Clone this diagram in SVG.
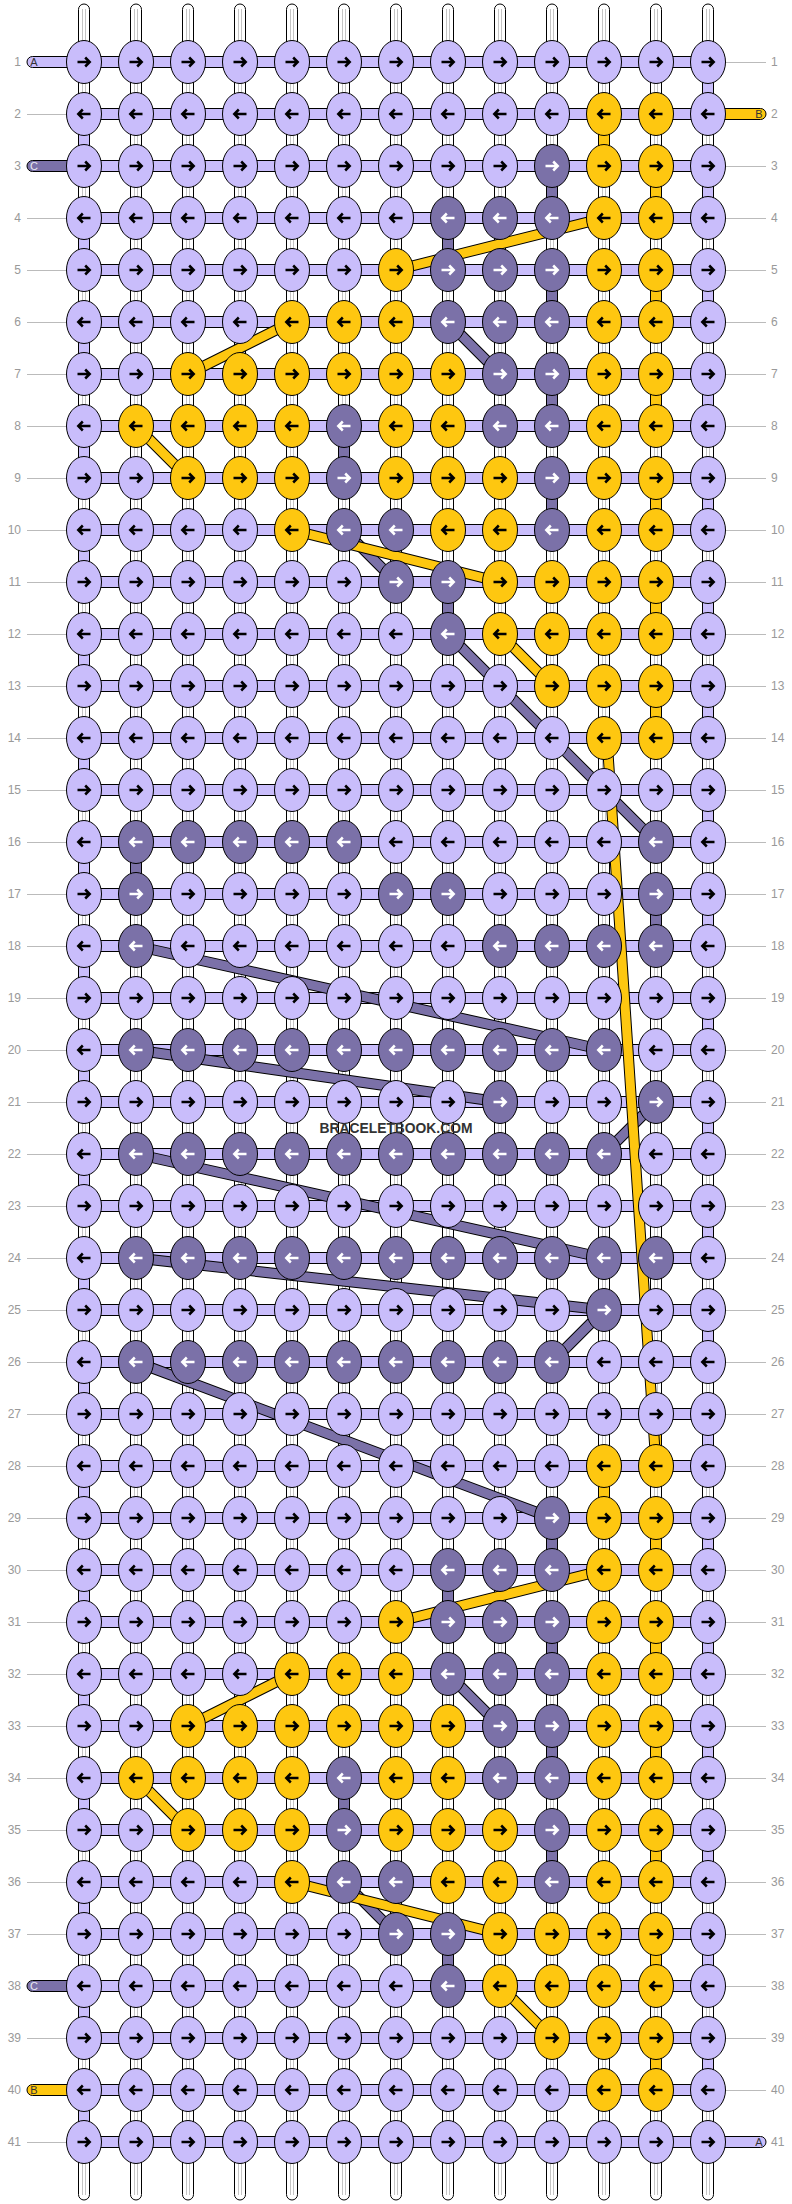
<svg xmlns="http://www.w3.org/2000/svg" xmlns:xlink="http://www.w3.org/1999/xlink" width="792" height="2204" viewBox="0 0 792 2204">
<style>
.L{fill:#c9bdfb}.D{fill:#7b71a8}.Y{fill:#fec710}
ellipse{stroke:#000;stroke-width:1}
.ak{fill:none;stroke:#000;stroke-width:2.5}
.aw{fill:none;stroke:#fff;stroke-width:2.5}
.st{fill:#fff;stroke:#000;stroke-width:1}
.gl{fill:none;stroke:#c4c4c4;stroke-width:1}
.sg{stroke:#000;stroke-width:1}
.ol{fill:none;stroke:#000;stroke-width:11}
.fy{fill:none;stroke:#fec710;stroke-width:9}
.fd{fill:none;stroke:#7b71a8;stroke-width:9}
.ll{fill:none;stroke:#bbb;stroke-width:1}
.lb{font-family:"Liberation Sans",Arial,sans-serif;font-size:12px;fill:#999;text-anchor:end}
.rb{font-family:"Liberation Sans",Arial,sans-serif;font-size:12px;fill:#999;text-anchor:start}
.sl{font-family:"Liberation Sans",Arial,sans-serif;font-size:11px;text-anchor:middle}
.wm{font-family:"Liberation Sans",Arial,sans-serif;font-size:15.5px;font-weight:bold;fill:#333;text-anchor:middle}
</style>
<defs>
<g id="LR"><ellipse class="L" rx="17.5" ry="21.5"/><path class="ak" d="M-6.5 0H5.5M1.2-4.5L5.7 0L1.2 4.5"/></g>
<g id="LL"><ellipse class="L" rx="17.5" ry="21.5"/><path class="ak" d="M6.5 0H-5.5M-1.2-4.5L-5.7 0L-1.2 4.5"/></g>
<g id="YR"><ellipse class="Y" rx="17.5" ry="21.5"/><path class="ak" d="M-6.5 0H5.5M1.2-4.5L5.7 0L1.2 4.5"/></g>
<g id="YL"><ellipse class="Y" rx="17.5" ry="21.5"/><path class="ak" d="M6.5 0H-5.5M-1.2-4.5L-5.7 0L-1.2 4.5"/></g>
<g id="DR"><ellipse class="D" rx="17.5" ry="21.5"/><path class="aw" d="M-6.5 0H5.5M1.2-4.5L5.7 0L1.2 4.5"/></g>
<g id="DL"><ellipse class="D" rx="17.5" ry="21.5"/><path class="aw" d="M6.5 0H-5.5M-1.2-4.5L-5.7 0L-1.2 4.5"/></g>
</defs>
<g id="connectors">
<g id="strands">
<rect class="st" x="78.5" y="4" width="11" height="2196" rx="5.5"/>
<rect class="st" x="130.5" y="4" width="11" height="2196" rx="5.5"/>
<rect class="st" x="182.5" y="4" width="11" height="2196" rx="5.5"/>
<rect class="st" x="234.5" y="4" width="11" height="2196" rx="5.5"/>
<rect class="st" x="286.5" y="4" width="11" height="2196" rx="5.5"/>
<rect class="st" x="338.5" y="4" width="11" height="2196" rx="5.5"/>
<rect class="st" x="390.5" y="4" width="11" height="2196" rx="5.5"/>
<rect class="st" x="442.5" y="4" width="11" height="2196" rx="5.5"/>
<rect class="st" x="494.5" y="4" width="11" height="2196" rx="5.5"/>
<rect class="st" x="546.5" y="4" width="11" height="2196" rx="5.5"/>
<rect class="st" x="598.5" y="4" width="11" height="2196" rx="5.5"/>
<rect class="st" x="650.5" y="4" width="11" height="2196" rx="5.5"/>
<rect class="st" x="702.5" y="4" width="11" height="2196" rx="5.5"/>
<path class="gl" d="M82.5 9V2195M85.5 9V2195M134.5 9V2195M137.5 9V2195M186.5 9V2195M189.5 9V2195M238.5 9V2195M241.5 9V2195M290.5 9V2195M293.5 9V2195M342.5 9V2195M345.5 9V2195M394.5 9V2195M397.5 9V2195M446.5 9V2195M449.5 9V2195M498.5 9V2195M501.5 9V2195M550.5 9V2195M553.5 9V2195M602.5 9V2195M605.5 9V2195M654.5 9V2195M657.5 9V2195M706.5 9V2195M709.5 9V2195"/>
</g>
<path id="rows" class="L sg" d="M84 56.5h624v11h-624zM84 108.5h624v11h-624zM84 160.5h624v11h-624zM84 212.5h624v11h-624zM84 264.5h624v11h-624zM84 316.5h624v11h-624zM84 368.5h624v11h-624zM84 420.5h624v11h-624zM84 472.5h624v11h-624zM84 524.5h624v11h-624zM84 576.5h624v11h-624zM84 628.5h624v11h-624zM84 680.5h624v11h-624zM84 732.5h624v11h-624zM84 784.5h624v11h-624zM84 836.5h624v11h-624zM84 888.5h624v11h-624zM84 940.5h624v11h-624zM84 992.5h624v11h-624zM84 1044.5h624v11h-624zM84 1096.5h624v11h-624zM84 1148.5h624v11h-624zM84 1200.5h624v11h-624zM84 1252.5h624v11h-624zM84 1304.5h624v11h-624zM84 1356.5h624v11h-624zM84 1408.5h624v11h-624zM84 1460.5h624v11h-624zM84 1512.5h624v11h-624zM84 1564.5h624v11h-624zM84 1616.5h624v11h-624zM84 1668.5h624v11h-624zM84 1720.5h624v11h-624zM84 1772.5h624v11h-624zM84 1824.5h624v11h-624zM84 1876.5h624v11h-624zM84 1928.5h624v11h-624zM84 1980.5h624v11h-624zM84 2032.5h624v11h-624zM84 2084.5h624v11h-624zM84 2136.5h624v11h-624z"/>
<path id="vL" class="L sg" d="M78.5 130h11v20h-11zM78.5 234h11v20h-11zM78.5 338h11v20h-11zM78.5 442h11v20h-11zM78.5 546h11v20h-11zM78.5 650h11v20h-11zM78.5 754h11v20h-11zM78.5 858h11v20h-11zM78.5 962h11v20h-11zM78.5 1066h11v20h-11zM78.5 1170h11v20h-11zM78.5 1274h11v20h-11zM78.5 1378h11v20h-11zM78.5 1482h11v20h-11zM78.5 1586h11v20h-11zM78.5 1690h11v20h-11zM78.5 1794h11v20h-11zM78.5 1898h11v20h-11zM78.5 2002h11v20h-11zM78.5 2106h11v20h-11zM702.5 78h11v20h-11zM702.5 182h11v20h-11zM702.5 286h11v20h-11zM702.5 390h11v20h-11zM702.5 494h11v20h-11zM702.5 598h11v20h-11zM702.5 702h11v20h-11zM702.5 806h11v20h-11zM702.5 910h11v20h-11zM702.5 1014h11v20h-11zM702.5 1118h11v20h-11zM702.5 1222h11v20h-11zM702.5 1326h11v20h-11zM702.5 1430h11v20h-11zM702.5 1534h11v20h-11zM702.5 1638h11v20h-11zM702.5 1742h11v20h-11zM702.5 1846h11v20h-11zM702.5 1950h11v20h-11zM702.5 2054h11v20h-11z"/>
<path id="vY" class="Y sg" d="M598.5 130h11v20h-11zM650.5 182h11v20h-11zM650.5 286h11v20h-11zM650.5 390h11v20h-11zM650.5 494h11v20h-11zM650.5 598h11v20h-11zM650.5 702h11v20h-11zM650.5 1430h11v20h-11zM598.5 1482h11v20h-11zM650.5 1534h11v20h-11zM650.5 1638h11v20h-11zM650.5 1742h11v20h-11zM650.5 1846h11v20h-11zM650.5 1950h11v20h-11zM650.5 2054h11v20h-11z"/>
<path id="vD" class="D sg" d="M546.5 182h11v20h-11zM442.5 234h11v20h-11zM546.5 286h11v20h-11zM546.5 390h11v20h-11zM338.5 442h11v20h-11zM546.5 494h11v20h-11zM442.5 598h11v20h-11zM130.5 858h11v20h-11zM650.5 910h11v20h-11zM546.5 1534h11v20h-11zM442.5 1586h11v20h-11zM546.5 1638h11v20h-11zM546.5 1742h11v20h-11zM338.5 1794h11v20h-11zM546.5 1846h11v20h-11zM442.5 1950h11v20h-11z"/>
<g id="diagonals">
<path class="ol" d="M448 322L500 374M344 530L396 582M448 634L656 842M136 946L604 1050M136 1050L500 1102M656 1102L604 1154M136 1154L604 1258M136 1258L604 1310M604 1310L552 1362M136 1362L552 1518M448 1674L500 1726M344 1882L396 1934"/>
<path class="fd" d="M448 322L500 374M344 530L396 582M448 634L656 842M136 946L604 1050M136 1050L500 1102M656 1102L604 1154M136 1154L604 1258M136 1258L604 1310M604 1310L552 1362M136 1362L552 1518M448 1674L500 1726M344 1882L396 1934"/>
<path class="ol" d="M604 218L396 270M292 322L188 374M136 426L188 478M292 530L500 582M500 634L552 686M607 738L656 1466M604 1570L396 1622M292 1674L188 1726M136 1778L188 1830M292 1882L500 1934M500 1986L552 2038"/>
<path class="fy" d="M604 218L396 270M292 322L188 374M136 426L188 478M292 530L500 582M500 634L552 686M607 738L656 1466M604 1570L396 1622M292 1674L188 1726M136 1778L188 1830M292 1882L500 1934M500 1986L552 2038"/>
</g>
<g id="stubs">
<rect class="L sg" x="27" y="56.5" width="53" height="11" rx="5.5"/>
<rect class="D sg" x="27" y="160.5" width="53" height="11" rx="5.5"/>
<rect class="D sg" x="27" y="1980.5" width="53" height="11" rx="5.5"/>
<rect class="Y sg" x="27" y="2084.5" width="53" height="11" rx="5.5"/>
<rect class="Y sg" x="712" y="108.5" width="54" height="11" rx="5.5"/>
<rect class="L sg" x="712" y="2136.5" width="54" height="11" rx="5.5"/>
<text class="sl" x="34" y="66" fill="#333">A</text>
<text class="sl" x="34" y="170" fill="#e8e8f0">C</text>
<text class="sl" x="34" y="1990" fill="#e8e8f0">C</text>
<text class="sl" x="34" y="2094" fill="#333">B</text>
<text class="sl" x="759" y="118" fill="#333">B</text>
<text class="sl" x="759" y="2146" fill="#333">A</text>
</g>
<path class="ll" d="M27 114.5H66M27 218.5H66M27 270.5H66M27 322.5H66M27 374.5H66M27 426.5H66M27 478.5H66M27 530.5H66M27 582.5H66M27 634.5H66M27 686.5H66M27 738.5H66M27 790.5H66M27 842.5H66M27 894.5H66M27 946.5H66M27 998.5H66M27 1050.5H66M27 1102.5H66M27 1154.5H66M27 1206.5H66M27 1258.5H66M27 1310.5H66M27 1362.5H66M27 1414.5H66M27 1466.5H66M27 1518.5H66M27 1570.5H66M27 1622.5H66M27 1674.5H66M27 1726.5H66M27 1778.5H66M27 1830.5H66M27 1882.5H66M27 1934.5H66M27 2038.5H66M27 2142.5H66M726 62.5H766M726 166.5H766M726 218.5H766M726 270.5H766M726 322.5H766M726 374.5H766M726 426.5H766M726 478.5H766M726 530.5H766M726 582.5H766M726 634.5H766M726 686.5H766M726 738.5H766M726 790.5H766M726 842.5H766M726 894.5H766M726 946.5H766M726 998.5H766M726 1050.5H766M726 1102.5H766M726 1154.5H766M726 1206.5H766M726 1258.5H766M726 1310.5H766M726 1362.5H766M726 1414.5H766M726 1466.5H766M726 1518.5H766M726 1570.5H766M726 1622.5H766M726 1674.5H766M726 1726.5H766M726 1778.5H766M726 1830.5H766M726 1882.5H766M726 1934.5H766M726 1986.5H766M726 2038.5H766M726 2090.5H766"/>
</g>
<g id="labels">
<text class="lb" x="21" y="66">1</text><text class="lb" x="21" y="118">2</text><text class="lb" x="21" y="170">3</text><text class="lb" x="21" y="222">4</text><text class="lb" x="21" y="274">5</text><text class="lb" x="21" y="326">6</text><text class="lb" x="21" y="378">7</text><text class="lb" x="21" y="430">8</text><text class="lb" x="21" y="482">9</text><text class="lb" x="21" y="534">10</text><text class="lb" x="21" y="586">11</text><text class="lb" x="21" y="638">12</text><text class="lb" x="21" y="690">13</text><text class="lb" x="21" y="742">14</text><text class="lb" x="21" y="794">15</text><text class="lb" x="21" y="846">16</text><text class="lb" x="21" y="898">17</text><text class="lb" x="21" y="950">18</text><text class="lb" x="21" y="1002">19</text><text class="lb" x="21" y="1054">20</text><text class="lb" x="21" y="1106">21</text><text class="lb" x="21" y="1158">22</text><text class="lb" x="21" y="1210">23</text><text class="lb" x="21" y="1262">24</text><text class="lb" x="21" y="1314">25</text><text class="lb" x="21" y="1366">26</text><text class="lb" x="21" y="1418">27</text><text class="lb" x="21" y="1470">28</text><text class="lb" x="21" y="1522">29</text><text class="lb" x="21" y="1574">30</text><text class="lb" x="21" y="1626">31</text><text class="lb" x="21" y="1678">32</text><text class="lb" x="21" y="1730">33</text><text class="lb" x="21" y="1782">34</text><text class="lb" x="21" y="1834">35</text><text class="lb" x="21" y="1886">36</text><text class="lb" x="21" y="1938">37</text><text class="lb" x="21" y="1990">38</text><text class="lb" x="21" y="2042">39</text><text class="lb" x="21" y="2094">40</text><text class="lb" x="21" y="2146">41</text>
<text class="rb" x="771" y="66">1</text><text class="rb" x="771" y="118">2</text><text class="rb" x="771" y="170">3</text><text class="rb" x="771" y="222">4</text><text class="rb" x="771" y="274">5</text><text class="rb" x="771" y="326">6</text><text class="rb" x="771" y="378">7</text><text class="rb" x="771" y="430">8</text><text class="rb" x="771" y="482">9</text><text class="rb" x="771" y="534">10</text><text class="rb" x="771" y="586">11</text><text class="rb" x="771" y="638">12</text><text class="rb" x="771" y="690">13</text><text class="rb" x="771" y="742">14</text><text class="rb" x="771" y="794">15</text><text class="rb" x="771" y="846">16</text><text class="rb" x="771" y="898">17</text><text class="rb" x="771" y="950">18</text><text class="rb" x="771" y="1002">19</text><text class="rb" x="771" y="1054">20</text><text class="rb" x="771" y="1106">21</text><text class="rb" x="771" y="1158">22</text><text class="rb" x="771" y="1210">23</text><text class="rb" x="771" y="1262">24</text><text class="rb" x="771" y="1314">25</text><text class="rb" x="771" y="1366">26</text><text class="rb" x="771" y="1418">27</text><text class="rb" x="771" y="1470">28</text><text class="rb" x="771" y="1522">29</text><text class="rb" x="771" y="1574">30</text><text class="rb" x="771" y="1626">31</text><text class="rb" x="771" y="1678">32</text><text class="rb" x="771" y="1730">33</text><text class="rb" x="771" y="1782">34</text><text class="rb" x="771" y="1834">35</text><text class="rb" x="771" y="1886">36</text><text class="rb" x="771" y="1938">37</text><text class="rb" x="771" y="1990">38</text><text class="rb" x="771" y="2042">39</text><text class="rb" x="771" y="2094">40</text><text class="rb" x="771" y="2146">41</text>
</g>
<g id="nodes">
<g id="r1" transform="translate(0,62)"><g id="n1-1"><use href="#LR" x="84"/></g><g id="n1-2"><use href="#LR" x="136"/></g><g id="n1-3"><use href="#LR" x="188"/></g><g id="n1-4"><use href="#LR" x="240"/></g><g id="n1-5"><use href="#LR" x="292"/></g><g id="n1-6"><use href="#LR" x="344"/></g><g id="n1-7"><use href="#LR" x="396"/></g><g id="n1-8"><use href="#LR" x="448"/></g><g id="n1-9"><use href="#LR" x="500"/></g><g id="n1-10"><use href="#LR" x="552"/></g><g id="n1-11"><use href="#LR" x="604"/></g><g id="n1-12"><use href="#LR" x="656"/></g><g id="n1-13"><use href="#LR" x="708"/></g></g>
<g id="r2" transform="translate(0,114)"><g id="n2-1"><use href="#LL" x="84"/></g><g id="n2-2"><use href="#LL" x="136"/></g><g id="n2-3"><use href="#LL" x="188"/></g><g id="n2-4"><use href="#LL" x="240"/></g><g id="n2-5"><use href="#LL" x="292"/></g><g id="n2-6"><use href="#LL" x="344"/></g><g id="n2-7"><use href="#LL" x="396"/></g><g id="n2-8"><use href="#LL" x="448"/></g><g id="n2-9"><use href="#LL" x="500"/></g><g id="n2-10"><use href="#LL" x="552"/></g><g id="n2-11"><use href="#YL" x="604"/></g><g id="n2-12"><use href="#YL" x="656"/></g><g id="n2-13"><use href="#LL" x="708"/></g></g>
<g id="r3" transform="translate(0,166)"><g id="n3-1"><use href="#LR" x="84"/></g><g id="n3-2"><use href="#LR" x="136"/></g><g id="n3-3"><use href="#LR" x="188"/></g><g id="n3-4"><use href="#LR" x="240"/></g><g id="n3-5"><use href="#LR" x="292"/></g><g id="n3-6"><use href="#LR" x="344"/></g><g id="n3-7"><use href="#LR" x="396"/></g><g id="n3-8"><use href="#LR" x="448"/></g><g id="n3-9"><use href="#LR" x="500"/></g><g id="n3-10"><use href="#DR" x="552"/></g><g id="n3-11"><use href="#YR" x="604"/></g><g id="n3-12"><use href="#YR" x="656"/></g><g id="n3-13"><use href="#LR" x="708"/></g></g>
<g id="r4" transform="translate(0,218)"><g id="n4-1"><use href="#LL" x="84"/></g><g id="n4-2"><use href="#LL" x="136"/></g><g id="n4-3"><use href="#LL" x="188"/></g><g id="n4-4"><use href="#LL" x="240"/></g><g id="n4-5"><use href="#LL" x="292"/></g><g id="n4-6"><use href="#LL" x="344"/></g><g id="n4-7"><use href="#LL" x="396"/></g><g id="n4-8"><use href="#DL" x="448"/></g><g id="n4-9"><use href="#DL" x="500"/></g><g id="n4-10"><use href="#DL" x="552"/></g><g id="n4-11"><use href="#YL" x="604"/></g><g id="n4-12"><use href="#YL" x="656"/></g><g id="n4-13"><use href="#LL" x="708"/></g></g>
<g id="r5" transform="translate(0,270)"><g id="n5-1"><use href="#LR" x="84"/></g><g id="n5-2"><use href="#LR" x="136"/></g><g id="n5-3"><use href="#LR" x="188"/></g><g id="n5-4"><use href="#LR" x="240"/></g><g id="n5-5"><use href="#LR" x="292"/></g><g id="n5-6"><use href="#LR" x="344"/></g><g id="n5-7"><use href="#YR" x="396"/></g><g id="n5-8"><use href="#DR" x="448"/></g><g id="n5-9"><use href="#DR" x="500"/></g><g id="n5-10"><use href="#DR" x="552"/></g><g id="n5-11"><use href="#YR" x="604"/></g><g id="n5-12"><use href="#YR" x="656"/></g><g id="n5-13"><use href="#LR" x="708"/></g></g>
<g id="r6" transform="translate(0,322)"><g id="n6-1"><use href="#LL" x="84"/></g><g id="n6-2"><use href="#LL" x="136"/></g><g id="n6-3"><use href="#LL" x="188"/></g><g id="n6-4"><use href="#LL" x="240"/></g><g id="n6-5"><use href="#YL" x="292"/></g><g id="n6-6"><use href="#YL" x="344"/></g><g id="n6-7"><use href="#YL" x="396"/></g><g id="n6-8"><use href="#DL" x="448"/></g><g id="n6-9"><use href="#DL" x="500"/></g><g id="n6-10"><use href="#DL" x="552"/></g><g id="n6-11"><use href="#YL" x="604"/></g><g id="n6-12"><use href="#YL" x="656"/></g><g id="n6-13"><use href="#LL" x="708"/></g></g>
<g id="r7" transform="translate(0,374)"><g id="n7-1"><use href="#LR" x="84"/></g><g id="n7-2"><use href="#LR" x="136"/></g><g id="n7-3"><use href="#YR" x="188"/></g><g id="n7-4"><use href="#YR" x="240"/></g><g id="n7-5"><use href="#YR" x="292"/></g><g id="n7-6"><use href="#YR" x="344"/></g><g id="n7-7"><use href="#YR" x="396"/></g><g id="n7-8"><use href="#YR" x="448"/></g><g id="n7-9"><use href="#DR" x="500"/></g><g id="n7-10"><use href="#DR" x="552"/></g><g id="n7-11"><use href="#YR" x="604"/></g><g id="n7-12"><use href="#YR" x="656"/></g><g id="n7-13"><use href="#LR" x="708"/></g></g>
<g id="r8" transform="translate(0,426)"><g id="n8-1"><use href="#LL" x="84"/></g><g id="n8-2"><use href="#YL" x="136"/></g><g id="n8-3"><use href="#YL" x="188"/></g><g id="n8-4"><use href="#YL" x="240"/></g><g id="n8-5"><use href="#YL" x="292"/></g><g id="n8-6"><use href="#DL" x="344"/></g><g id="n8-7"><use href="#YL" x="396"/></g><g id="n8-8"><use href="#YL" x="448"/></g><g id="n8-9"><use href="#DL" x="500"/></g><g id="n8-10"><use href="#DL" x="552"/></g><g id="n8-11"><use href="#YL" x="604"/></g><g id="n8-12"><use href="#YL" x="656"/></g><g id="n8-13"><use href="#LL" x="708"/></g></g>
<g id="r9" transform="translate(0,478)"><g id="n9-1"><use href="#LR" x="84"/></g><g id="n9-2"><use href="#LR" x="136"/></g><g id="n9-3"><use href="#YR" x="188"/></g><g id="n9-4"><use href="#YR" x="240"/></g><g id="n9-5"><use href="#YR" x="292"/></g><g id="n9-6"><use href="#DR" x="344"/></g><g id="n9-7"><use href="#YR" x="396"/></g><g id="n9-8"><use href="#YR" x="448"/></g><g id="n9-9"><use href="#YR" x="500"/></g><g id="n9-10"><use href="#DR" x="552"/></g><g id="n9-11"><use href="#YR" x="604"/></g><g id="n9-12"><use href="#YR" x="656"/></g><g id="n9-13"><use href="#LR" x="708"/></g></g>
<g id="r10" transform="translate(0,530)"><g id="n10-1"><use href="#LL" x="84"/></g><g id="n10-2"><use href="#LL" x="136"/></g><g id="n10-3"><use href="#LL" x="188"/></g><g id="n10-4"><use href="#LL" x="240"/></g><g id="n10-5"><use href="#YL" x="292"/></g><g id="n10-6"><use href="#DL" x="344"/></g><g id="n10-7"><use href="#DL" x="396"/></g><g id="n10-8"><use href="#YL" x="448"/></g><g id="n10-9"><use href="#YL" x="500"/></g><g id="n10-10"><use href="#DL" x="552"/></g><g id="n10-11"><use href="#YL" x="604"/></g><g id="n10-12"><use href="#YL" x="656"/></g><g id="n10-13"><use href="#LL" x="708"/></g></g>
<g id="r11" transform="translate(0,582)"><g id="n11-1"><use href="#LR" x="84"/></g><g id="n11-2"><use href="#LR" x="136"/></g><g id="n11-3"><use href="#LR" x="188"/></g><g id="n11-4"><use href="#LR" x="240"/></g><g id="n11-5"><use href="#LR" x="292"/></g><g id="n11-6"><use href="#LR" x="344"/></g><g id="n11-7"><use href="#DR" x="396"/></g><g id="n11-8"><use href="#DR" x="448"/></g><g id="n11-9"><use href="#YR" x="500"/></g><g id="n11-10"><use href="#YR" x="552"/></g><g id="n11-11"><use href="#YR" x="604"/></g><g id="n11-12"><use href="#YR" x="656"/></g><g id="n11-13"><use href="#LR" x="708"/></g></g>
<g id="r12" transform="translate(0,634)"><g id="n12-1"><use href="#LL" x="84"/></g><g id="n12-2"><use href="#LL" x="136"/></g><g id="n12-3"><use href="#LL" x="188"/></g><g id="n12-4"><use href="#LL" x="240"/></g><g id="n12-5"><use href="#LL" x="292"/></g><g id="n12-6"><use href="#LL" x="344"/></g><g id="n12-7"><use href="#LL" x="396"/></g><g id="n12-8"><use href="#DL" x="448"/></g><g id="n12-9"><use href="#YL" x="500"/></g><g id="n12-10"><use href="#YL" x="552"/></g><g id="n12-11"><use href="#YL" x="604"/></g><g id="n12-12"><use href="#YL" x="656"/></g><g id="n12-13"><use href="#LL" x="708"/></g></g>
<g id="r13" transform="translate(0,686)"><g id="n13-1"><use href="#LR" x="84"/></g><g id="n13-2"><use href="#LR" x="136"/></g><g id="n13-3"><use href="#LR" x="188"/></g><g id="n13-4"><use href="#LR" x="240"/></g><g id="n13-5"><use href="#LR" x="292"/></g><g id="n13-6"><use href="#LR" x="344"/></g><g id="n13-7"><use href="#LR" x="396"/></g><g id="n13-8"><use href="#LR" x="448"/></g><g id="n13-9"><use href="#LR" x="500"/></g><g id="n13-10"><use href="#YR" x="552"/></g><g id="n13-11"><use href="#YR" x="604"/></g><g id="n13-12"><use href="#YR" x="656"/></g><g id="n13-13"><use href="#LR" x="708"/></g></g>
<g id="r14" transform="translate(0,738)"><g id="n14-1"><use href="#LL" x="84"/></g><g id="n14-2"><use href="#LL" x="136"/></g><g id="n14-3"><use href="#LL" x="188"/></g><g id="n14-4"><use href="#LL" x="240"/></g><g id="n14-5"><use href="#LL" x="292"/></g><g id="n14-6"><use href="#LL" x="344"/></g><g id="n14-7"><use href="#LL" x="396"/></g><g id="n14-8"><use href="#LL" x="448"/></g><g id="n14-9"><use href="#LL" x="500"/></g><g id="n14-10"><use href="#LL" x="552"/></g><g id="n14-11"><use href="#YL" x="604"/></g><g id="n14-12"><use href="#YL" x="656"/></g><g id="n14-13"><use href="#LL" x="708"/></g></g>
<g id="r15" transform="translate(0,790)"><g id="n15-1"><use href="#LR" x="84"/></g><g id="n15-2"><use href="#LR" x="136"/></g><g id="n15-3"><use href="#LR" x="188"/></g><g id="n15-4"><use href="#LR" x="240"/></g><g id="n15-5"><use href="#LR" x="292"/></g><g id="n15-6"><use href="#LR" x="344"/></g><g id="n15-7"><use href="#LR" x="396"/></g><g id="n15-8"><use href="#LR" x="448"/></g><g id="n15-9"><use href="#LR" x="500"/></g><g id="n15-10"><use href="#LR" x="552"/></g><g id="n15-11"><use href="#LR" x="604"/></g><g id="n15-12"><use href="#LR" x="656"/></g><g id="n15-13"><use href="#LR" x="708"/></g></g>
<g id="r16" transform="translate(0,842)"><g id="n16-1"><use href="#LL" x="84"/></g><g id="n16-2"><use href="#DL" x="136"/></g><g id="n16-3"><use href="#DL" x="188"/></g><g id="n16-4"><use href="#DL" x="240"/></g><g id="n16-5"><use href="#DL" x="292"/></g><g id="n16-6"><use href="#DL" x="344"/></g><g id="n16-7"><use href="#LL" x="396"/></g><g id="n16-8"><use href="#LL" x="448"/></g><g id="n16-9"><use href="#LL" x="500"/></g><g id="n16-10"><use href="#LL" x="552"/></g><g id="n16-11"><use href="#LL" x="604"/></g><g id="n16-12"><use href="#DL" x="656"/></g><g id="n16-13"><use href="#LL" x="708"/></g></g>
<g id="r17" transform="translate(0,894)"><g id="n17-1"><use href="#LR" x="84"/></g><g id="n17-2"><use href="#DR" x="136"/></g><g id="n17-3"><use href="#LR" x="188"/></g><g id="n17-4"><use href="#LR" x="240"/></g><g id="n17-5"><use href="#LR" x="292"/></g><g id="n17-6"><use href="#LR" x="344"/></g><g id="n17-7"><use href="#DR" x="396"/></g><g id="n17-8"><use href="#DR" x="448"/></g><g id="n17-9"><use href="#LR" x="500"/></g><g id="n17-10"><use href="#LR" x="552"/></g><g id="n17-11"><use href="#LR" x="604"/></g><g id="n17-12"><use href="#DR" x="656"/></g><g id="n17-13"><use href="#LR" x="708"/></g></g>
<g id="r18" transform="translate(0,946)"><g id="n18-1"><use href="#LL" x="84"/></g><g id="n18-2"><use href="#DL" x="136"/></g><g id="n18-3"><use href="#LL" x="188"/></g><g id="n18-4"><use href="#LL" x="240"/></g><g id="n18-5"><use href="#LL" x="292"/></g><g id="n18-6"><use href="#LL" x="344"/></g><g id="n18-7"><use href="#LL" x="396"/></g><g id="n18-8"><use href="#LL" x="448"/></g><g id="n18-9"><use href="#DL" x="500"/></g><g id="n18-10"><use href="#DL" x="552"/></g><g id="n18-11"><use href="#DL" x="604"/></g><g id="n18-12"><use href="#DL" x="656"/></g><g id="n18-13"><use href="#LL" x="708"/></g></g>
<g id="r19" transform="translate(0,998)"><g id="n19-1"><use href="#LR" x="84"/></g><g id="n19-2"><use href="#LR" x="136"/></g><g id="n19-3"><use href="#LR" x="188"/></g><g id="n19-4"><use href="#LR" x="240"/></g><g id="n19-5"><use href="#LR" x="292"/></g><g id="n19-6"><use href="#LR" x="344"/></g><g id="n19-7"><use href="#LR" x="396"/></g><g id="n19-8"><use href="#LR" x="448"/></g><g id="n19-9"><use href="#LR" x="500"/></g><g id="n19-10"><use href="#LR" x="552"/></g><g id="n19-11"><use href="#LR" x="604"/></g><g id="n19-12"><use href="#LR" x="656"/></g><g id="n19-13"><use href="#LR" x="708"/></g></g>
<g id="r20" transform="translate(0,1050)"><g id="n20-1"><use href="#LL" x="84"/></g><g id="n20-2"><use href="#DL" x="136"/></g><g id="n20-3"><use href="#DL" x="188"/></g><g id="n20-4"><use href="#DL" x="240"/></g><g id="n20-5"><use href="#DL" x="292"/></g><g id="n20-6"><use href="#DL" x="344"/></g><g id="n20-7"><use href="#DL" x="396"/></g><g id="n20-8"><use href="#DL" x="448"/></g><g id="n20-9"><use href="#DL" x="500"/></g><g id="n20-10"><use href="#DL" x="552"/></g><g id="n20-11"><use href="#DL" x="604"/></g><g id="n20-12"><use href="#LL" x="656"/></g><g id="n20-13"><use href="#LL" x="708"/></g></g>
<g id="r21" transform="translate(0,1102)"><g id="n21-1"><use href="#LR" x="84"/></g><g id="n21-2"><use href="#LR" x="136"/></g><g id="n21-3"><use href="#LR" x="188"/></g><g id="n21-4"><use href="#LR" x="240"/></g><g id="n21-5"><use href="#LR" x="292"/></g><g id="n21-6"><use href="#LR" x="344"/></g><g id="n21-7"><use href="#LR" x="396"/></g><g id="n21-8"><use href="#LR" x="448"/></g><g id="n21-9"><use href="#DR" x="500"/></g><g id="n21-10"><use href="#LR" x="552"/></g><g id="n21-11"><use href="#LR" x="604"/></g><g id="n21-12"><use href="#DR" x="656"/></g><g id="n21-13"><use href="#LR" x="708"/></g></g>
<g id="r22" transform="translate(0,1154)"><g id="n22-1"><use href="#LL" x="84"/></g><g id="n22-2"><use href="#DL" x="136"/></g><g id="n22-3"><use href="#DL" x="188"/></g><g id="n22-4"><use href="#DL" x="240"/></g><g id="n22-5"><use href="#DL" x="292"/></g><g id="n22-6"><use href="#DL" x="344"/></g><g id="n22-7"><use href="#DL" x="396"/></g><g id="n22-8"><use href="#DL" x="448"/></g><g id="n22-9"><use href="#DL" x="500"/></g><g id="n22-10"><use href="#DL" x="552"/></g><g id="n22-11"><use href="#DL" x="604"/></g><g id="n22-12"><use href="#LL" x="656"/></g><g id="n22-13"><use href="#LL" x="708"/></g></g>
<g id="r23" transform="translate(0,1206)"><g id="n23-1"><use href="#LR" x="84"/></g><g id="n23-2"><use href="#LR" x="136"/></g><g id="n23-3"><use href="#LR" x="188"/></g><g id="n23-4"><use href="#LR" x="240"/></g><g id="n23-5"><use href="#LR" x="292"/></g><g id="n23-6"><use href="#LR" x="344"/></g><g id="n23-7"><use href="#LR" x="396"/></g><g id="n23-8"><use href="#LR" x="448"/></g><g id="n23-9"><use href="#LR" x="500"/></g><g id="n23-10"><use href="#LR" x="552"/></g><g id="n23-11"><use href="#LR" x="604"/></g><g id="n23-12"><use href="#LR" x="656"/></g><g id="n23-13"><use href="#LR" x="708"/></g></g>
<g id="r24" transform="translate(0,1258)"><g id="n24-1"><use href="#LL" x="84"/></g><g id="n24-2"><use href="#DL" x="136"/></g><g id="n24-3"><use href="#DL" x="188"/></g><g id="n24-4"><use href="#DL" x="240"/></g><g id="n24-5"><use href="#DL" x="292"/></g><g id="n24-6"><use href="#DL" x="344"/></g><g id="n24-7"><use href="#DL" x="396"/></g><g id="n24-8"><use href="#DL" x="448"/></g><g id="n24-9"><use href="#DL" x="500"/></g><g id="n24-10"><use href="#DL" x="552"/></g><g id="n24-11"><use href="#DL" x="604"/></g><g id="n24-12"><use href="#DL" x="656"/></g><g id="n24-13"><use href="#LL" x="708"/></g></g>
<g id="r25" transform="translate(0,1310)"><g id="n25-1"><use href="#LR" x="84"/></g><g id="n25-2"><use href="#LR" x="136"/></g><g id="n25-3"><use href="#LR" x="188"/></g><g id="n25-4"><use href="#LR" x="240"/></g><g id="n25-5"><use href="#LR" x="292"/></g><g id="n25-6"><use href="#LR" x="344"/></g><g id="n25-7"><use href="#LR" x="396"/></g><g id="n25-8"><use href="#LR" x="448"/></g><g id="n25-9"><use href="#LR" x="500"/></g><g id="n25-10"><use href="#LR" x="552"/></g><g id="n25-11"><use href="#DR" x="604"/></g><g id="n25-12"><use href="#LR" x="656"/></g><g id="n25-13"><use href="#LR" x="708"/></g></g>
<g id="r26" transform="translate(0,1362)"><g id="n26-1"><use href="#LL" x="84"/></g><g id="n26-2"><use href="#DL" x="136"/></g><g id="n26-3"><use href="#DL" x="188"/></g><g id="n26-4"><use href="#DL" x="240"/></g><g id="n26-5"><use href="#DL" x="292"/></g><g id="n26-6"><use href="#DL" x="344"/></g><g id="n26-7"><use href="#DL" x="396"/></g><g id="n26-8"><use href="#DL" x="448"/></g><g id="n26-9"><use href="#DL" x="500"/></g><g id="n26-10"><use href="#DL" x="552"/></g><g id="n26-11"><use href="#LL" x="604"/></g><g id="n26-12"><use href="#LL" x="656"/></g><g id="n26-13"><use href="#LL" x="708"/></g></g>
<g id="r27" transform="translate(0,1414)"><g id="n27-1"><use href="#LR" x="84"/></g><g id="n27-2"><use href="#LR" x="136"/></g><g id="n27-3"><use href="#LR" x="188"/></g><g id="n27-4"><use href="#LR" x="240"/></g><g id="n27-5"><use href="#LR" x="292"/></g><g id="n27-6"><use href="#LR" x="344"/></g><g id="n27-7"><use href="#LR" x="396"/></g><g id="n27-8"><use href="#LR" x="448"/></g><g id="n27-9"><use href="#LR" x="500"/></g><g id="n27-10"><use href="#LR" x="552"/></g><g id="n27-11"><use href="#LR" x="604"/></g><g id="n27-12"><use href="#LR" x="656"/></g><g id="n27-13"><use href="#LR" x="708"/></g></g>
<g id="r28" transform="translate(0,1466)"><g id="n28-1"><use href="#LL" x="84"/></g><g id="n28-2"><use href="#LL" x="136"/></g><g id="n28-3"><use href="#LL" x="188"/></g><g id="n28-4"><use href="#LL" x="240"/></g><g id="n28-5"><use href="#LL" x="292"/></g><g id="n28-6"><use href="#LL" x="344"/></g><g id="n28-7"><use href="#LL" x="396"/></g><g id="n28-8"><use href="#LL" x="448"/></g><g id="n28-9"><use href="#LL" x="500"/></g><g id="n28-10"><use href="#LL" x="552"/></g><g id="n28-11"><use href="#YL" x="604"/></g><g id="n28-12"><use href="#YL" x="656"/></g><g id="n28-13"><use href="#LL" x="708"/></g></g>
<g id="r29" transform="translate(0,1518)"><g id="n29-1"><use href="#LR" x="84"/></g><g id="n29-2"><use href="#LR" x="136"/></g><g id="n29-3"><use href="#LR" x="188"/></g><g id="n29-4"><use href="#LR" x="240"/></g><g id="n29-5"><use href="#LR" x="292"/></g><g id="n29-6"><use href="#LR" x="344"/></g><g id="n29-7"><use href="#LR" x="396"/></g><g id="n29-8"><use href="#LR" x="448"/></g><g id="n29-9"><use href="#LR" x="500"/></g><g id="n29-10"><use href="#DR" x="552"/></g><g id="n29-11"><use href="#YR" x="604"/></g><g id="n29-12"><use href="#YR" x="656"/></g><g id="n29-13"><use href="#LR" x="708"/></g></g>
<g id="r30" transform="translate(0,1570)"><g id="n30-1"><use href="#LL" x="84"/></g><g id="n30-2"><use href="#LL" x="136"/></g><g id="n30-3"><use href="#LL" x="188"/></g><g id="n30-4"><use href="#LL" x="240"/></g><g id="n30-5"><use href="#LL" x="292"/></g><g id="n30-6"><use href="#LL" x="344"/></g><g id="n30-7"><use href="#LL" x="396"/></g><g id="n30-8"><use href="#DL" x="448"/></g><g id="n30-9"><use href="#DL" x="500"/></g><g id="n30-10"><use href="#DL" x="552"/></g><g id="n30-11"><use href="#YL" x="604"/></g><g id="n30-12"><use href="#YL" x="656"/></g><g id="n30-13"><use href="#LL" x="708"/></g></g>
<g id="r31" transform="translate(0,1622)"><g id="n31-1"><use href="#LR" x="84"/></g><g id="n31-2"><use href="#LR" x="136"/></g><g id="n31-3"><use href="#LR" x="188"/></g><g id="n31-4"><use href="#LR" x="240"/></g><g id="n31-5"><use href="#LR" x="292"/></g><g id="n31-6"><use href="#LR" x="344"/></g><g id="n31-7"><use href="#YR" x="396"/></g><g id="n31-8"><use href="#DR" x="448"/></g><g id="n31-9"><use href="#DR" x="500"/></g><g id="n31-10"><use href="#DR" x="552"/></g><g id="n31-11"><use href="#YR" x="604"/></g><g id="n31-12"><use href="#YR" x="656"/></g><g id="n31-13"><use href="#LR" x="708"/></g></g>
<g id="r32" transform="translate(0,1674)"><g id="n32-1"><use href="#LL" x="84"/></g><g id="n32-2"><use href="#LL" x="136"/></g><g id="n32-3"><use href="#LL" x="188"/></g><g id="n32-4"><use href="#LL" x="240"/></g><g id="n32-5"><use href="#YL" x="292"/></g><g id="n32-6"><use href="#YL" x="344"/></g><g id="n32-7"><use href="#YL" x="396"/></g><g id="n32-8"><use href="#DL" x="448"/></g><g id="n32-9"><use href="#DL" x="500"/></g><g id="n32-10"><use href="#DL" x="552"/></g><g id="n32-11"><use href="#YL" x="604"/></g><g id="n32-12"><use href="#YL" x="656"/></g><g id="n32-13"><use href="#LL" x="708"/></g></g>
<g id="r33" transform="translate(0,1726)"><g id="n33-1"><use href="#LR" x="84"/></g><g id="n33-2"><use href="#LR" x="136"/></g><g id="n33-3"><use href="#YR" x="188"/></g><g id="n33-4"><use href="#YR" x="240"/></g><g id="n33-5"><use href="#YR" x="292"/></g><g id="n33-6"><use href="#YR" x="344"/></g><g id="n33-7"><use href="#YR" x="396"/></g><g id="n33-8"><use href="#YR" x="448"/></g><g id="n33-9"><use href="#DR" x="500"/></g><g id="n33-10"><use href="#DR" x="552"/></g><g id="n33-11"><use href="#YR" x="604"/></g><g id="n33-12"><use href="#YR" x="656"/></g><g id="n33-13"><use href="#LR" x="708"/></g></g>
<g id="r34" transform="translate(0,1778)"><g id="n34-1"><use href="#LL" x="84"/></g><g id="n34-2"><use href="#YL" x="136"/></g><g id="n34-3"><use href="#YL" x="188"/></g><g id="n34-4"><use href="#YL" x="240"/></g><g id="n34-5"><use href="#YL" x="292"/></g><g id="n34-6"><use href="#DL" x="344"/></g><g id="n34-7"><use href="#YL" x="396"/></g><g id="n34-8"><use href="#YL" x="448"/></g><g id="n34-9"><use href="#DL" x="500"/></g><g id="n34-10"><use href="#DL" x="552"/></g><g id="n34-11"><use href="#YL" x="604"/></g><g id="n34-12"><use href="#YL" x="656"/></g><g id="n34-13"><use href="#LL" x="708"/></g></g>
<g id="r35" transform="translate(0,1830)"><g id="n35-1"><use href="#LR" x="84"/></g><g id="n35-2"><use href="#LR" x="136"/></g><g id="n35-3"><use href="#YR" x="188"/></g><g id="n35-4"><use href="#YR" x="240"/></g><g id="n35-5"><use href="#YR" x="292"/></g><g id="n35-6"><use href="#DR" x="344"/></g><g id="n35-7"><use href="#YR" x="396"/></g><g id="n35-8"><use href="#YR" x="448"/></g><g id="n35-9"><use href="#YR" x="500"/></g><g id="n35-10"><use href="#DR" x="552"/></g><g id="n35-11"><use href="#YR" x="604"/></g><g id="n35-12"><use href="#YR" x="656"/></g><g id="n35-13"><use href="#LR" x="708"/></g></g>
<g id="r36" transform="translate(0,1882)"><g id="n36-1"><use href="#LL" x="84"/></g><g id="n36-2"><use href="#LL" x="136"/></g><g id="n36-3"><use href="#LL" x="188"/></g><g id="n36-4"><use href="#LL" x="240"/></g><g id="n36-5"><use href="#YL" x="292"/></g><g id="n36-6"><use href="#DL" x="344"/></g><g id="n36-7"><use href="#DL" x="396"/></g><g id="n36-8"><use href="#YL" x="448"/></g><g id="n36-9"><use href="#YL" x="500"/></g><g id="n36-10"><use href="#DL" x="552"/></g><g id="n36-11"><use href="#YL" x="604"/></g><g id="n36-12"><use href="#YL" x="656"/></g><g id="n36-13"><use href="#LL" x="708"/></g></g>
<g id="r37" transform="translate(0,1934)"><g id="n37-1"><use href="#LR" x="84"/></g><g id="n37-2"><use href="#LR" x="136"/></g><g id="n37-3"><use href="#LR" x="188"/></g><g id="n37-4"><use href="#LR" x="240"/></g><g id="n37-5"><use href="#LR" x="292"/></g><g id="n37-6"><use href="#LR" x="344"/></g><g id="n37-7"><use href="#DR" x="396"/></g><g id="n37-8"><use href="#DR" x="448"/></g><g id="n37-9"><use href="#YR" x="500"/></g><g id="n37-10"><use href="#YR" x="552"/></g><g id="n37-11"><use href="#YR" x="604"/></g><g id="n37-12"><use href="#YR" x="656"/></g><g id="n37-13"><use href="#LR" x="708"/></g></g>
<g id="r38" transform="translate(0,1986)"><g id="n38-1"><use href="#LL" x="84"/></g><g id="n38-2"><use href="#LL" x="136"/></g><g id="n38-3"><use href="#LL" x="188"/></g><g id="n38-4"><use href="#LL" x="240"/></g><g id="n38-5"><use href="#LL" x="292"/></g><g id="n38-6"><use href="#LL" x="344"/></g><g id="n38-7"><use href="#LL" x="396"/></g><g id="n38-8"><use href="#DL" x="448"/></g><g id="n38-9"><use href="#YL" x="500"/></g><g id="n38-10"><use href="#YL" x="552"/></g><g id="n38-11"><use href="#YL" x="604"/></g><g id="n38-12"><use href="#YL" x="656"/></g><g id="n38-13"><use href="#LL" x="708"/></g></g>
<g id="r39" transform="translate(0,2038)"><g id="n39-1"><use href="#LR" x="84"/></g><g id="n39-2"><use href="#LR" x="136"/></g><g id="n39-3"><use href="#LR" x="188"/></g><g id="n39-4"><use href="#LR" x="240"/></g><g id="n39-5"><use href="#LR" x="292"/></g><g id="n39-6"><use href="#LR" x="344"/></g><g id="n39-7"><use href="#LR" x="396"/></g><g id="n39-8"><use href="#LR" x="448"/></g><g id="n39-9"><use href="#LR" x="500"/></g><g id="n39-10"><use href="#YR" x="552"/></g><g id="n39-11"><use href="#YR" x="604"/></g><g id="n39-12"><use href="#YR" x="656"/></g><g id="n39-13"><use href="#LR" x="708"/></g></g>
<g id="r40" transform="translate(0,2090)"><g id="n40-1"><use href="#LL" x="84"/></g><g id="n40-2"><use href="#LL" x="136"/></g><g id="n40-3"><use href="#LL" x="188"/></g><g id="n40-4"><use href="#LL" x="240"/></g><g id="n40-5"><use href="#LL" x="292"/></g><g id="n40-6"><use href="#LL" x="344"/></g><g id="n40-7"><use href="#LL" x="396"/></g><g id="n40-8"><use href="#LL" x="448"/></g><g id="n40-9"><use href="#LL" x="500"/></g><g id="n40-10"><use href="#LL" x="552"/></g><g id="n40-11"><use href="#YL" x="604"/></g><g id="n40-12"><use href="#YL" x="656"/></g><g id="n40-13"><use href="#LL" x="708"/></g></g>
<g id="r41" transform="translate(0,2142)"><g id="n41-1"><use href="#LR" x="84"/></g><g id="n41-2"><use href="#LR" x="136"/></g><g id="n41-3"><use href="#LR" x="188"/></g><g id="n41-4"><use href="#LR" x="240"/></g><g id="n41-5"><use href="#LR" x="292"/></g><g id="n41-6"><use href="#LR" x="344"/></g><g id="n41-7"><use href="#LR" x="396"/></g><g id="n41-8"><use href="#LR" x="448"/></g><g id="n41-9"><use href="#LR" x="500"/></g><g id="n41-10"><use href="#LR" x="552"/></g><g id="n41-11"><use href="#LR" x="604"/></g><g id="n41-12"><use href="#LR" x="656"/></g><g id="n41-13"><use href="#LR" x="708"/></g></g>
</g>
<text class="wm" x="396" y="1133" textLength="153" lengthAdjust="spacingAndGlyphs">BRACELETBOOK.COM</text>
</svg>
